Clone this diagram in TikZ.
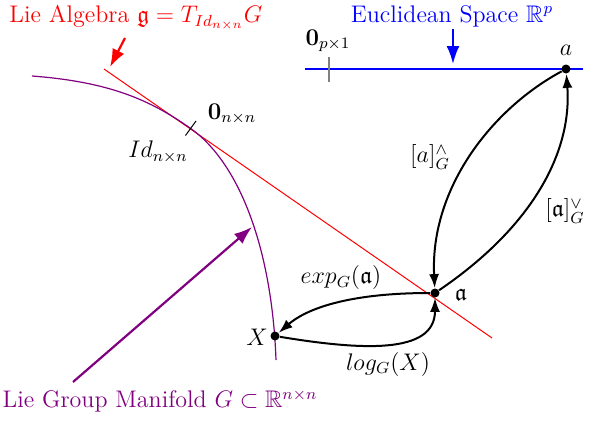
\documentclass[tikz,border=0pt]{standalone}
\usepackage{amsmath,amssymb}
\usetikzlibrary{arrows.meta}
\definecolor{mypurple}{RGB}{128,0,128}
\tikzset{
  lbl/.style={font=\large, inner sep=1pt},
  dot/.style={circle, fill=black, inner sep=0pt, minimum size=4.5pt},
  maparrow/.style={draw=black, line width=1pt, -{Latex[length=7pt,width=5pt]}},
  bigarrow/.style={line width=1.1pt, -{Latex[length=9pt,width=6.5pt]}},
}
\begin{document}
\begin{tikzpicture}[x=0.5pt,y=-0.5pt]
\useasboundingbox (0,0) rectangle (596,423);

% Lie algebra (tangent line)
\coordinate (r1) at (104,69);
\coordinate (r2) at (492,338);
\draw[red, line width=0.5pt] (r1) -- (r2);

% Lie group manifold curve
\coordinate (g1) at (32,76);
\coordinate (gt) at (190,128);
\coordinate (g2) at (276,360);
\draw[mypurple, line width=0.6pt] (g1) .. controls (110,82) and (150,100) .. (gt)
  .. controls (240,163) and (272,250) .. (g2);

% tick at identity
\coordinate (t1) at (185.5,135.5);
\coordinate (t2) at (196,121);
\draw[black, line width=0.5pt] (t1) -- (t2);
\node[lbl] (zero) at (232,114) {$\mathbf{0}_{n\times n}$};
\node[lbl] (id) at (158,152) {$Id_{n\times n}$};

% Euclidean space
\coordinate (e1) at (305,69);
\coordinate (e2) at (583,69);
\draw[blue, line width=0.75pt] (e1) -- (e2);
\coordinate (p1) at (329,57);
\coordinate (p2) at (329,82);
\draw[gray, line width=0.6pt] (p1) -- (p2);
\node[lbl] (zp) at (328,41) {$\mathbf{0}_{p\times 1}$};

% titles and pointer arrows
\node[lbl, text=red] (la) at (136,18) {Lie Algebra $\mathfrak{g} = T_{Id_{n\times n}}G$};
\coordinate (ra1) at (125,38);
\coordinate (ra2) at (110,67);
\draw[red, bigarrow] (ra1) -- (ra2);

\node[lbl, text=blue] (es) at (452,16) {Euclidean Space $\mathbb{R}^{p}$};
\coordinate (ba1) at (453,29);
\coordinate (ba2) at (453,64);
\draw[blue, bigarrow] (ba1) -- (ba2);

\node[lbl, text=mypurple] (lg) at (160,401) {Lie Group Manifold $G\subset\mathbb{R}^{n\times n}$};
\coordinate (pa1) at (73,382);
\coordinate (pa2) at (252,227);
\draw[mypurple, bigarrow] (pa1) -- (pa2);

% points
\node[dot] (a) at (566,69) {};
\node[dot] (fa) at (435,293) {};
\node[dot] (X) at (275,336) {};
\node[lbl] (alab) at (566,50) {$a$};
\node[lbl] (falab) at (461,295) {$\mathfrak{a}$};
\node[lbl] (Xlab) at (257,337) {$X$};

% maps
\draw[maparrow] (a) .. controls (490,110) and (430,190) .. (fa);
\draw[maparrow] (fa) .. controls (535,225) and (572,150) .. (a);
\draw[maparrow] (fa) .. controls (345,293) and (305,310) .. (X);
\draw[maparrow] (X) .. controls (360,350) and (435,355) .. (fa);

\node[lbl] (hat) at (430,157) {$[a]^{\wedge}_{G}$};
\node[lbl] (vee) at (565,211) {$[\mathfrak{a}]^{\vee}_{G}$};
\node[lbl] (exp) at (341,278) {$exp_{G}(\mathfrak{a})$};
\node[lbl] (log) at (388,364) {$log_{G}(X)$};
\end{tikzpicture}
\end{document}
